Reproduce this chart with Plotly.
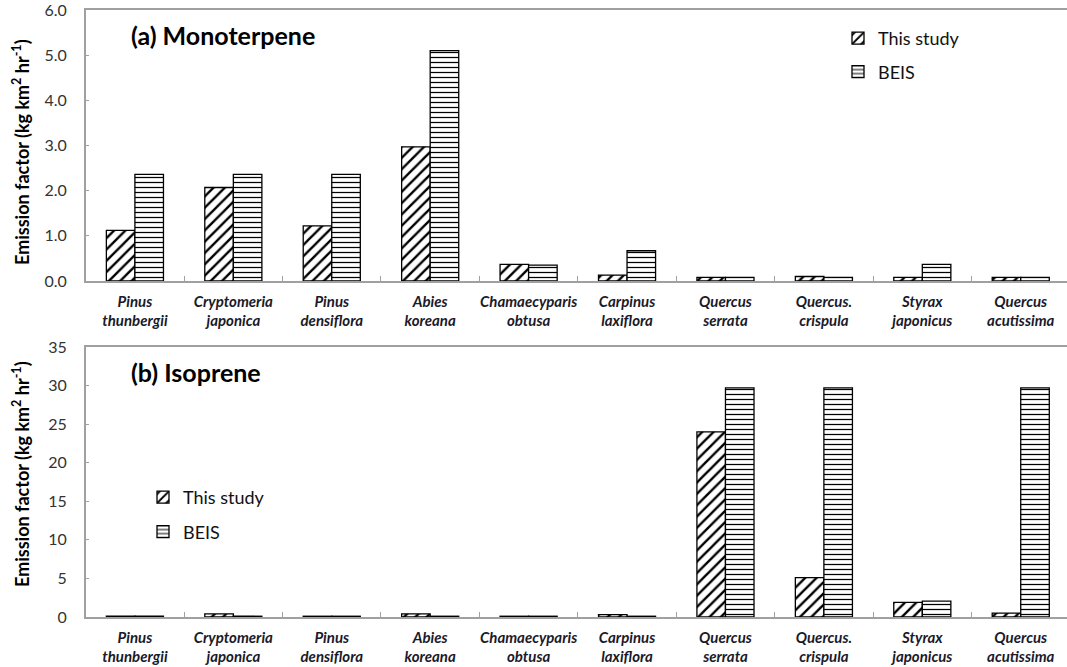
import plotly.graph_objects as go

genus = ["Pinus", "Cryptomeria", "Pinus", "Abies", "Chamaecyparis",
         "Carpinus", "Quercus", "Quercus.", "Styrax", "Quercus"]
species = ["thunbergii", "japonica", "densiflora", "koreana", "obtusa",
           "laxiflora", "serrata", "crispula", "japonicus", "acutissima"]
categories = [f"{g} {s}" for g, s in zip(genus, species)]
tick_labels = [f"<b><i>{g}</i></b><br><b><i>{s}</i></b>" for g, s in zip(genus, species)]

mono_this_study = [1.12, 2.07, 1.22, 2.97, 0.37, 0.13, 0.08, 0.10, 0.08, 0.08]
mono_beis = [2.36, 2.36, 2.36, 5.10, 0.35, 0.67, 0.08, 0.08, 0.37, 0.08]

iso_this_study = [0.1, 0.4, 0.1, 0.4, 0.1, 0.3, 24.0, 5.1, 1.9, 0.5]
iso_beis = [0.1, 0.1, 0.1, 0.1, 0.1, 0.1, 29.7, 29.7, 2.07, 29.7]

FONT = "Lato"
W, H = 1067, 667

def hatch_bar(name, y, xa, ya, shape, size, solidity, legend, group):
    return go.Bar(
        x=categories, y=y, name=name, xaxis=xa, yaxis=ya, legend=legend,
        legendgroup=group,
        marker=dict(color="white", line=dict(color="black", width=1.3),
                    pattern=dict(shape=shape, fgcolor="black", bgcolor="white",
                                 size=size, solidity=solidity, fillmode="replace")),
    )

fig = go.Figure()
fig.add_trace(hatch_bar("This study", mono_this_study, "x", "y", "/", 8, 0.3, "legend", "a1"))
fig.add_trace(hatch_bar("BEIS", mono_beis, "x", "y", "-", 5, 0.25, "legend", "a2"))
fig.add_trace(hatch_bar("This study", iso_this_study, "x2", "y2", "/", 8, 0.3, "legend2", "b1"))
fig.add_trace(hatch_bar("BEIS", iso_beis, "x2", "y2", "-", 5, 0.25, "legend2", "b2"))

x_left = 85.7 / W
top_dom = [(H - 281) / H, (H - 10) / H]
bot_dom = [(H - 617) / H, (H - 347) / H]

xcommon = dict(
    type="category", categoryorder="array", categoryarray=categories,
    tickmode="array", tickvals=categories, ticktext=tick_labels,
    range=[-0.5, 9.47], tickson="boundaries", ticks="inside", ticklen=5,
    tickcolor="#a0a0a0", showline=True, linecolor="#a0a0a0", linewidth=1.5,
    mirror=True, showgrid=False, domain=[x_left, 1], tickangle=0,
    automargin=False, ticklabelstandoff=6, ticklabeloverflow="allow",
    tickfont=dict(family=FONT, size=15, color="#1a1a2a"),
)
ycommon = dict(
    showline=True, linecolor="#a0a0a0", linewidth=1.5, ticks="inside",
    ticklen=4, tickcolor="#a0a0a0", showgrid=False, zeroline=False,
    automargin=False, ticklabelstandoff=14, ticklabeloverflow="allow",
    tickfont=dict(family=FONT, size=16, color="#333333"),
)

fig.update_layout(
    width=W, height=H, margin=dict(l=0, r=0, t=0, b=0, autoexpand=False),
    paper_bgcolor="white", plot_bgcolor="white",
    barmode="group", bargap=0.42, bargroupgap=0,
    xaxis=dict(**xcommon, anchor="y"),
    yaxis=dict(**ycommon, domain=top_dom, range=[0, 6], dtick=1,
               tickformat=".1f", anchor="x"),
    xaxis2=dict(**xcommon, anchor="y2"),
    yaxis2=dict(**ycommon, domain=bot_dom, range=[0, 35], dtick=5,
                anchor="x2"),
    legend=dict(x=838 / W, y=(H - 20) / H, xanchor="left", yanchor="top",
                font=dict(family=FONT, size=18, color="#111111"),
                tracegroupgap=7, traceorder="grouped", bgcolor="rgba(0,0,0,0)"),
    legend2=dict(x=143 / W, y=(H - 479) / H, xanchor="left", yanchor="top",
                 font=dict(family=FONT, size=18, color="#111111"),
                 tracegroupgap=8, traceorder="grouped", bgcolor="rgba(0,0,0,0)"),
    annotations=[
        dict(text="<b>(a) Monoterpene</b>", x=129 / W, y=(H - 35) / H,
             xref="paper", yref="paper", xanchor="left", yanchor="middle",
             showarrow=False, font=dict(family=FONT, size=25, color="black")),
        dict(text="<b>(b) Isoprene</b>", x=129 / W, y=(H - 372) / H,
             xref="paper", yref="paper", xanchor="left", yanchor="middle",
             showarrow=False, font=dict(family=FONT, size=25, color="black")),
        dict(text="<b>Emission factor (kg km<sup>2</sup> hr<sup>-1</sup>)</b>",
             x=21 / W, y=(H - 152) / H, xref="paper", yref="paper",
             xanchor="center", yanchor="middle", textangle=-90, showarrow=False,
             font=dict(family=FONT, size=18, color="black")),
        dict(text="<b>Emission factor (kg km<sup>2</sup> hr<sup>-1</sup>)</b>",
             x=21 / W, y=(H - 474) / H, xref="paper", yref="paper",
             xanchor="center", yanchor="middle", textangle=-90, showarrow=False,
             font=dict(family=FONT, size=18, color="black")),
    ],
)

fig.write_html("out.html", config={"displayModeBar": False},
               post_script="document.body.style.margin='0px';document.body.style.overflow='hidden';")
